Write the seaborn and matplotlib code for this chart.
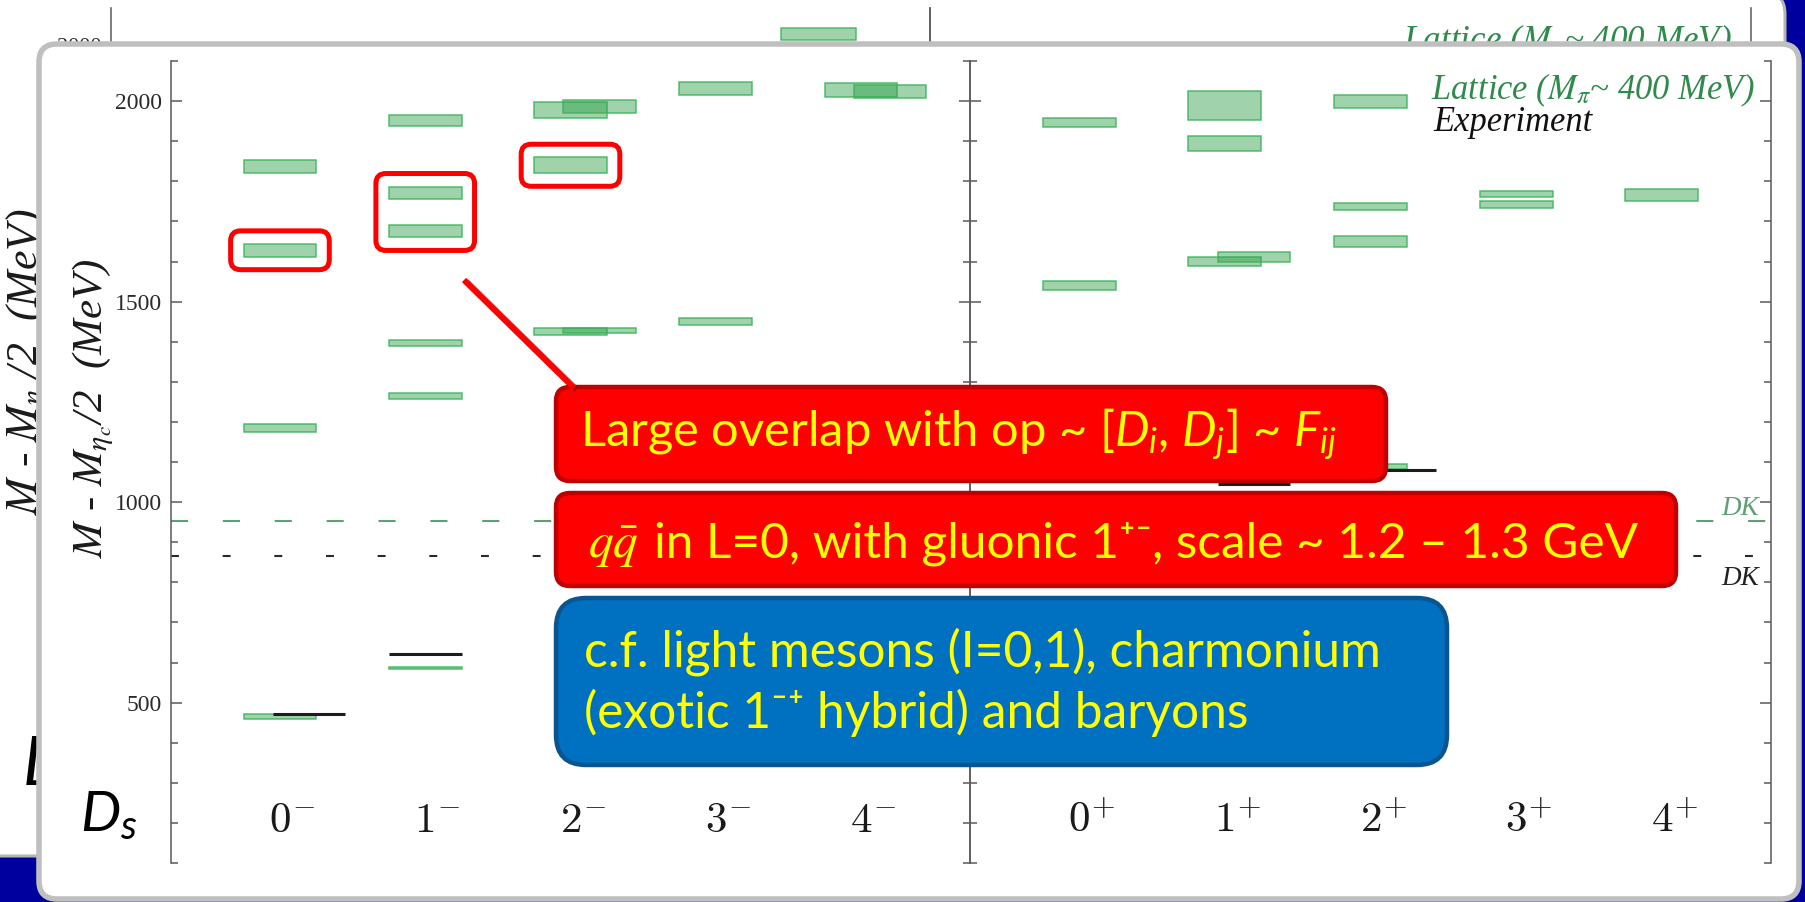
import numpy as np
import matplotlib
matplotlib.use("Agg")
import matplotlib.pyplot as plt
import seaborn as sns
from matplotlib.patches import FancyBboxPatch, Rectangle
from matplotlib.ticker import MultipleLocator, FuncFormatter

# ---------------- D_s spectrum: M - M_{eta_c}/2 in MeV ----------------
spins = [0, 1, 2, 3, 4]

# negative parity, lattice levels (J, centre, half-width)
neg_J = [0, 0, 0, 0, 1, 1, 1, 1, 1, 1, 2, 2, 2, 3, 3, 4]
neg_M = [1837, 1628, 1185, 465, 1951, 1771, 1675, 1397, 1265, 587, 1977, 1840, 1425, 2031, 1450, 2027]
neg_dM = [16, 16, 10, 7, 14, 16, 15, 7, 7, 3, 20, 20, 8, 16, 8, 17]
# negative parity, second lattice set (drawn beside the first)
neg2_J = [2, 2, 4]
neg2_M = [1986, 1428, 2024]
neg2_dM = [16, 6, 16]

# positive parity, lattice levels
pos_J = [0, 0, 1, 1, 1, 2, 2, 2, 2, 3, 3, 4]
pos_M = [1946, 1541, 1989, 1894, 1600, 1999, 1737, 1650, 1089, 1768, 1743, 1765]
pos_dM = [11, 11, 36, 19, 12, 17, 9, 14, 6, 7, 9, 15]
pos2_J = [1]
pos2_M = [1612]
pos2_dM = [12]

# experiment
neg_exp_J = [1]
neg_exp_M = [622]
neg2_exp_J = [0]
neg2_exp_M = [472]
pos2_exp_J = [1, 2]
pos2_exp_M = [1045, 1080]

# DK thresholds
dk_lattice = 952
dk_expt = 865

# levels singled out with red frames (J, centre)
highlight_groups = [[(0, 1628)], [(1, 1771), (1, 1675)], [(2, 1840)]]

# D-meson chart of the previous slide (only its edges show)
old_J = [4]
old_M = [2028]
old_dM = [15]

# ---------------- style ----------------
sns.set_theme(style="white")
plt.rcParams["font.family"] = ["Lato", "DejaVu Sans"]
plt.rcParams["mathtext.fontset"] = "custom"
plt.rcParams["mathtext.rm"] = "Lato"
plt.rcParams["mathtext.it"] = "Lato:italic"
plt.rcParams["mathtext.bf"] = "Lato:bold"
plt.rcParams["mathtext.sf"] = "Lato"
plt.rcParams["mathtext.fallback"] = "stix"

NAVY = "#00009e"
AXC = "#5a5a5a"
LAT_FILL = (0.18, 0.62, 0.28, 0.45)
LAT_EDGE = (0.22, 0.70, 0.35, 0.85)
EXP_C = "#1c1c1c"
DK_LAT_C = "#5f9f74"
LEG_GREEN = "#2f8a4c"
YEL = "#ffff00"
BOX_W = 0.5
SIDE = 0.2

W, H = 1806, 902
fig = plt.figure(figsize=(W / 100, H / 100), dpi=100, facecolor=NAVY)
renderer = fig.canvas.get_renderer()


def frac(x0, y0, x1, y1):
    """pixel box (origin top-left) -> figure-fraction rectangle"""
    return [x0 / W, 1 - y1 / H, (x1 - x0) / W, (y1 - y0) / H]


def pixel_axes(z):
    a = fig.add_axes([0, 0, 1, 1], zorder=z)
    a.set_xlim(0, W)
    a.set_ylim(H, 0)
    a.set_axis_off()
    return a


def style_panel(ax, ylim, labels, tick_font=17):
    ax.set_xlim(-0.75, 4.75)
    ax.set_ylim(*ylim)
    ax.patch.set_alpha(0)
    sns.despine(ax=ax, top=True, bottom=True, left=False, right=False)
    for s in ("left", "right"):
        ax.spines[s].set_color(AXC)
        ax.spines[s].set_linewidth(1.1)
    ax.set_xticks([])
    ax.yaxis.set_major_locator(MultipleLocator(500))
    ax.yaxis.set_minor_locator(MultipleLocator(100))
    ax.yaxis.set_major_formatter(FuncFormatter(lambda v, p: f"{v:.0f}"))
    ax.tick_params(axis="y", which="both", direction="in", left=True, right=True,
                   color=AXC, width=1.1)
    ax.tick_params(axis="y", which="major", length=7.8)
    ax.tick_params(axis="y", which="minor", length=5.0)
    ax.tick_params(axis="y", labelleft=labels, labelright=False, labelsize=tick_font,
                   labelfontfamily="Liberation Serif", labelcolor="#2a2a2a", pad=6.5)


def draw_lattice(ax, J, M, dM, shift=0.0):
    J = np.asarray(J, float)
    M = np.asarray(M, float)
    dM = np.asarray(dM, float)
    ax.bar(J + shift, 2 * dM, bottom=M - dM, width=BOX_W, color=LAT_FILL,
           edgecolor=LAT_EDGE, linewidth=1.1, zorder=2)


def draw_expt(ax, J, M, shift=0.0):
    J = np.asarray(J, float)
    ax.hlines(M, J + shift - BOX_W / 2, J + shift + BOX_W / 2, color=EXP_C, lw=2.2, zorder=3)


def fit_width(t, target, vertical=False):
    for _ in range(3):
        bb = t.get_window_extent(renderer)
        size = bb.height if vertical else bb.width
        t.set_fontsize(t.get_fontsize() * target / size)


# ---------------- background slide ----------------
bg = pixel_axes(0)
bg.add_patch(FancyBboxPatch((-40, -8), 1825, 864, boxstyle="round,pad=0,rounding_size=22",
                            fc="white", ec="#b4b4b4", lw=2.2, clip_on=False))
# strip of the old slide left of the panel
left_strip = Rectangle((0, 0), 39, H, transform=bg.transData, visible=False)
bg.add_patch(left_strip)

ylab = r"$M$ - $M_{\eta_c}$/2  (MeV)"
old_ylab = bg.text(28, 362, ylab, rotation=90, ha="center", va="center", fontsize=24,
                   fontfamily="Liberation Serif", fontstyle="italic", math_fontfamily="stix",
                   color="#1a1a1a")
fit_width(old_ylab, 307, vertical=True)
old_D = bg.text(22, 785, r"$D$", fontsize=48, ha="left", va="baseline", color="black")
for t in (old_ylab, old_D):
    t.set_clip_path(left_strip)
    t.set_clip_on(True)
old_leg = bg.text(1403, 50, r"Lattice ($M_\pi$~ 400 MeV)", fontsize=22, ha="left",
                  va="baseline", fontfamily="Liberation Serif", fontstyle="italic",
                  math_fontfamily="stix", color=LEG_GREEN)
fit_width(old_leg, 329)

old_L = fig.add_axes(frac(111, 8, 930, 880), zorder=1)
old_R = fig.add_axes(frac(930, 8, 1751, 880), zorder=1)
style_panel(old_L, (-87.5, 2092.5), True, tick_font=16)
style_panel(old_R, (-87.5, 2092.5), False)
draw_lattice(old_L, old_J, old_M, old_dM)

# ---------------- slide panel ----------------
pn = pixel_axes(2)
pn.add_patch(FancyBboxPatch((39, 44), 1760, 855, boxstyle="round,pad=0,rounding_size=18",
                            fc="white", ec="#bfbfbf", lw=4.0, clip_on=False))

# ---------------- spectrum panels ----------------
axL = fig.add_axes(frac(171, 61, 970, 863), zorder=3)
axR = fig.add_axes(frac(970, 61, 1771, 863), zorder=3)
style_panel(axL, (100, 2100), True)
style_panel(axR, (100, 2100), False)

draw_lattice(axL, neg_J, neg_M, neg_dM)
draw_lattice(axL, neg2_J, neg2_M, neg2_dM, SIDE)
draw_expt(axL, neg_exp_J, neg_exp_M)
draw_expt(axL, neg2_exp_J, neg2_exp_M, SIDE)

draw_lattice(axR, pos_J, pos_M, pos_dM)
draw_lattice(axR, pos2_J, pos2_M, pos2_dM, SIDE)
draw_expt(axR, pos2_exp_J, pos2_exp_M, SIDE)

for ax, sign in ((axL, "-"), (axR, "+")):
    ax.axhline(dk_lattice, color=DK_LAT_C, lw=1.5, ls=(0, (8.2, 16.7)), zorder=1)
    ax.axhline(dk_expt, color="#2a2a2a", lw=1.5, ls=(0, (3.8, 21.0)), zorder=1)
    for j in spins:
        ax.annotate(f"${j}^{{{sign}}}$", xy=(j, 0), xycoords=("data", "axes fraction"),
                    xytext=(-7.8, 22.3), textcoords="offset points", ha="left",
                    va="baseline", fontsize=31, math_fontfamily="cm", color="#1a1a1a")

axR.annotate("DK", xy=(1, dk_lattice), xycoords=("axes fraction", "data"), xytext=(-8.6, 4.3),
             textcoords="offset points", ha="right", va="baseline", color=DK_LAT_C,
             fontsize=19.5, fontfamily="Liberation Serif", fontstyle="italic")
axR.annotate("DK", xy=(1, dk_expt), xycoords=("axes fraction", "data"), xytext=(-8.6, -21),
             textcoords="offset points", ha="right", va="baseline", color="#222222",
             fontsize=19.5, fontfamily="Liberation Serif", fontstyle="italic")

# ---------------- labels and call-outs ----------------
ov = pixel_axes(4)

main_ylab = ov.text(93, 408, ylab, rotation=90, ha="center", va="center", fontsize=24,
                    fontfamily="Liberation Serif", fontstyle="italic", math_fontfamily="stix",
                    color="#1a1a1a")
fit_width(main_ylab, 300, vertical=True)
ov.text(80, 831, r"$D_s$", fontsize=41, ha="left", va="baseline", color="black")

leg1 = ov.text(1431, 99, r"Lattice ($M_\pi$~ 400 MeV)", fontsize=22, ha="left", va="baseline",
               fontfamily="Liberation Serif", fontstyle="italic", math_fontfamily="stix",
               color=LEG_GREEN)
fit_width(leg1, 324)
ov.text(1433, 131, "Experiment", fontsize=leg1.get_fontsize(), ha="left", va="baseline",
        fontfamily="Liberation Serif", fontstyle="italic", color="#111111")

# red frames around the highlighted negative-parity levels
lookup = {(j, m): d for j, m, d in zip(neg_J, neg_M, neg_dM)}
for group in highlight_groups:
    xs, ys = [], []
    for j, m in group:
        d = lookup[(j, m)]
        for xv, yv in ((j - BOX_W / 2, m - d), (j + BOX_W / 2, m + d)):
            X, Y = axL.transData.transform((xv, yv))
            xs.append(X)
            ys.append(H - Y)
    pad = 13
    x0, x1, y0, y1 = min(xs) - pad, max(xs) + pad, min(ys) - pad, max(ys) + pad
    ov.add_patch(FancyBboxPatch((x0, y0), x1 - x0, y1 - y0,
                                boxstyle="round,pad=0,rounding_size=10",
                                fc="none", ec="#ff0000", lw=3.6))

# pointer from the 1- frame to the call-out
ov.plot([466.5, 576.5], [281.5, 389.5], color="#700000", alpha=0.5, lw=4.3,
        solid_capstyle="butt")
ov.plot([464, 574], [280, 388], color="#ff0000", lw=4.3, solid_capstyle="butt")

ov.add_patch(FancyBboxPatch((556, 387), 830, 94, boxstyle="round,pad=0,rounding_size=14",
                            fc="#ff0000", ec="#c00000", lw=3.2))
ov.add_patch(FancyBboxPatch((556, 493), 1120, 93, boxstyle="round,pad=0,rounding_size=14",
                            fc="#ff0000", ec="#c00000", lw=3.2))
ov.add_patch(FancyBboxPatch((556, 598), 891, 167, boxstyle="round,pad=0,rounding_size=30",
                            fc="#0070c0", ec="#0a5590", lw=3.2))

t1 = ov.text(580, 447, r"Large overlap with op ~ [$D_i$, $D_j$] ~ $F_{ij}$", color=YEL,
             ha="left", va="baseline", fontsize=28)
fit_width(t1, 756)

tq = ov.text(588, 558, r"$q\bar{q}$", math_fontfamily="stix", color=YEL, ha="left",
             va="baseline", fontsize=28)
tr = ov.text(620, 558, "in L=0, with gluonic 1⁺⁻, scale ~ 1.2 – 1.3 GeV", color=YEL,
             ha="left", va="baseline", fontsize=28)


def layout_q_line():
    wq = tq.get_window_extent(renderer).width
    tr.set_x(588 + wq + 0.3 * tq.get_fontsize() * 100 / 72)
    return tr.get_window_extent(renderer).x1 - tq.get_window_extent(renderer).x0


for _ in range(3):
    s = tq.get_fontsize() * 1049 / layout_q_line()
    tq.set_fontsize(s)
    tr.set_fontsize(s)
layout_q_line()

b1 = ov.text(584, 667, "c.f. light mesons (I=0,1), charmonium", color=YEL, ha="left",
             va="baseline", fontsize=30)
fit_width(b1, 797)
ov.text(584, 728, "(exotic 1⁻⁺ hybrid) and baryons", color=YEL, ha="left", va="baseline",
        fontsize=b1.get_fontsize())

fig.savefig("out.png", dpi=100, facecolor=fig.get_facecolor())
